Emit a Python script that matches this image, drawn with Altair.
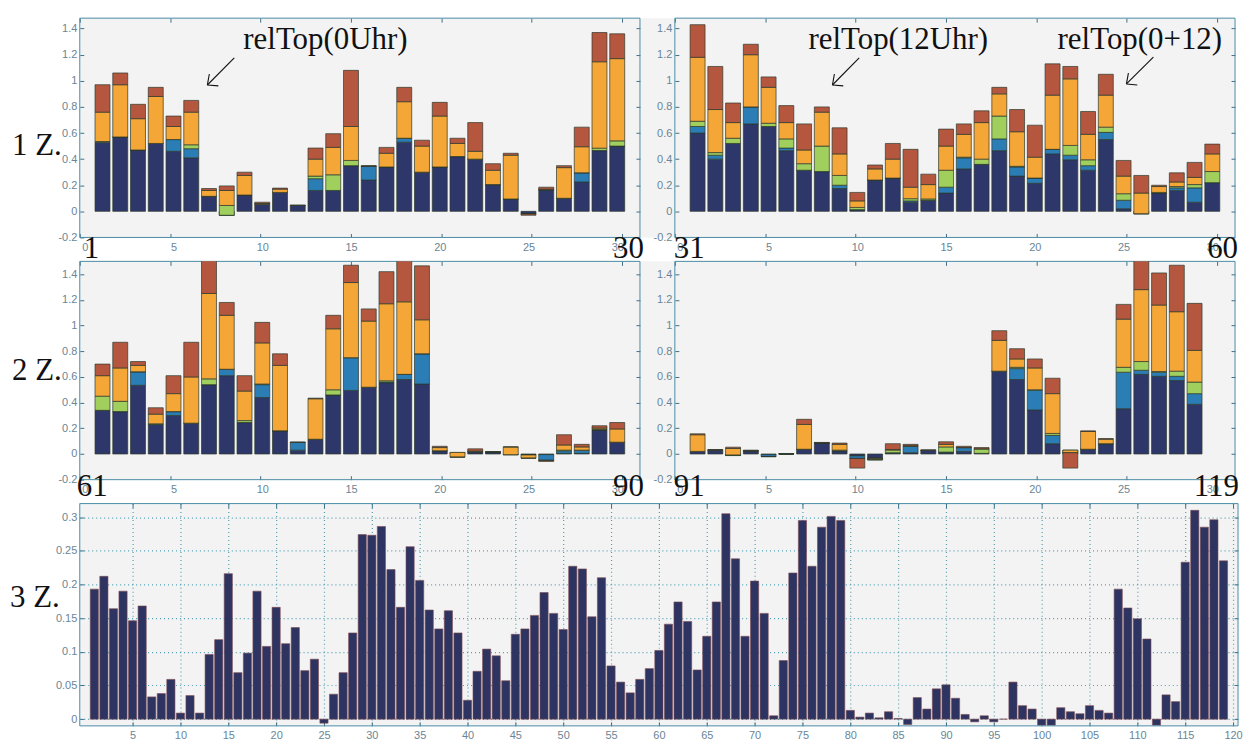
import altair as alt
import pandas as pd

SERIES = ["navy", "blue", "green", "orange", "red"]
COLORS = ["#2e3769", "#2b7db6", "#a0cf5e", "#f4a637", "#b5573e"]

# ---- panel 1 : days 1-30 ----
P1_NAVY = [0.53, 0.57, 0.47, 0.52, 0.46, 0.41, 0.115, -0.03, 0.125, 0.055,
           0.145, 0.045, 0.16, 0.16, 0.35, 0.24, 0.34, 0.53, 0.30, 0.34,
           0.42, 0.40, 0.205, 0.095, -0.02, 0.165, 0.10, 0.225, 0.466, 0.50]
P1_BLUE = [0, 0, 0, 0, 0.09, 0.07, 0, 0, 0, 0,
           0, 0, 0.09, 0, 0, 0.105, 0, 0.03, 0, 0,
           0, 0, 0, 0, 0, 0, 0, 0.07, 0, 0]
P1_GREEN = [0.005, 0, 0, 0, 0, 0.03, 0, 0.075, 0, 0,
            0, 0, 0.02, 0.12, 0.04, 0, 0, 0, 0, 0,
            0, 0, 0, 0, 0, 0, 0, 0, 0.018, 0.04]
P1_ORANGE = [0.225, 0.40, 0.24, 0.36, 0.10, 0.25, 0.045, 0.115, 0.15, 0.005,
             0.025, 0, 0.13, 0.21, 0.26, 0, 0.105, 0.28, 0.20, 0.39,
             0.10, 0.06, 0.11, 0.335, 0, 0.005, 0.235, 0.20, 0.662, 0.63]
P1_RED = [0.21, 0.09, 0.11, 0.07, 0.08, 0.09, 0.015, 0.035, 0.025, 0.01,
          0.008, 0.003, 0.085, 0.105, 0.43, 0.005, 0.045, 0.11, 0.045, 0.105,
          0.04, 0.22, 0.05, 0.015, -0.01, 0.015, 0.015, 0.15, 0.224, 0.19]

# ---- panel 2 : days 31-60 ----
P2_NAVY = [0.60, 0.40, 0.52, 0.67, 0.65, 0.465, 0.315, 0.305, 0.175, 0.013,
           0.24, 0.255, 0.07, 0.085, 0.14, 0.325, 0.36, 0.465, 0.27, 0.215,
           0.44, 0.395, 0.315, 0.55, 0.02, -0.018, 0.14, 0.16, 0.07, 0.22]
P2_BLUE = [0.05, 0.03, 0, 0.13, 0, 0.02, 0, 0, 0.025, 0,
           0, 0, 0.01, 0, 0.045, 0.085, 0, 0.09, 0.07, 0.04,
           0.035, 0.035, 0.035, 0.055, 0.065, 0, 0, 0.02, 0.11, 0]
P2_GREEN = [0.04, 0.02, 0.04, 0, 0.025, 0.07, 0.05, 0.195, 0.075, 0.017,
            0, 0, 0.017, 0.01, 0.13, 0.005, 0.04, 0.175, 0.005, 0,
            0, 0.075, 0.045, 0.04, 0.05, 0, 0.005, 0.01, 0.025, 0.085]
P2_ORANGE = [0.49, 0.33, 0.12, 0.40, 0.275, 0.125, 0.105, 0.26, 0.165, 0.05,
             0.085, 0.145, 0.088, 0.11, 0.185, 0.175, 0.28, 0.17, 0.265, 0.16,
             0.415, 0.51, 0.195, 0.245, 0.135, 0.158, 0.045, 0.035, 0.055, 0.135]
P2_RED = [0.25, 0.33, 0.15, 0.08, 0.08, 0.13, 0.20, 0.04, 0.20, 0.065,
          0.03, 0.12, 0.29, 0.08, 0.13, 0.08, 0.09, 0.05, 0.17, 0.245,
          0.24, 0.095, 0.175, 0.16, 0.12, 0.135, 0.01, 0.07, 0.115, 0.075]

# ---- panel 3 : days 61-90 ----
P3_NAVY = [0.34, 0.33, 0.535, 0.23, 0.30, 0.24, 0.54, 0.61, 0.245, 0.44,
           0.18, 0.03, 0.115, 0.46, 0.495, 0.52, 0.555, 0.58, 0.545, 0.025,
           0, 0.018, 0.015, -0.005, -0.008, -0.005, 0.005, 0.005, 0.187, 0.092]
P3_BLUE = [0, 0, 0.105, 0, 0.03, 0, 0, 0.05, 0, 0.10,
           0, 0.06, 0, 0, 0.255, 0, 0.005, 0.04, 0.235, 0,
           0, 0, 0, 0, 0, -0.045, 0.02, 0.025, 0, 0]
P3_GREEN = [0.11, 0.08, 0, 0.005, 0, 0, 0.045, 0, 0.015, 0.005,
            0, 0, 0, 0.04, 0, 0, 0.01, 0, 0, 0,
            0.012, 0, 0, 0, 0, 0, 0.005, 0, 0.005, 0]
P3_ORANGE = [0.16, 0.26, 0.05, 0.075, 0.14, 0.36, 0.665, 0.42, 0.23, 0.32,
             0.51, 0, 0.315, 0.475, 0.585, 0.515, 0.60, 0.565, 0.265, 0.025,
             -0.037, 0.005, 0, 0.06, -0.025, 0, 0.04, 0.025, 0.01, 0.103]
P3_RED = [0.09, 0.20, 0.03, 0.05, 0.14, 0.27, 0.30, 0.10, 0.12, 0.16,
          0.09, 0.003, 0.005, 0.105, 0.135, 0.095, 0.25, 0.33, 0.42, 0.01,
          0, 0.017, 0.003, 0, 0, -0.008, 0.08, 0.02, 0.018, 0.05]

# ---- panel 4 : days 91-119 ----
P4_NAVY = [0.02, 0.03, -0.012, 0.025, -0.005, 0, 0.037, 0.085, 0.025, -0.015,
           -0.045, 0.005, 0.01, 0.028, 0.01, 0.02, 0.005, 0.645, 0.58, 0.343,
           0.08, 0.01, 0.037, 0.08, 0.353, 0.62, 0.605, 0.572, 0.387]
P4_BLUE = [0, 0, 0, 0, -0.015, 0, 0, 0, 0, -0.02,
           0, 0.005, 0.05, 0, 0.005, 0.03, 0, 0, 0.085, 0.154,
           0.065, 0, 0, 0, 0.284, 0.032, 0.032, 0.033, 0.083]
P4_GREEN = [0, 0, 0.005, 0, 0, 0, 0, 0, 0.005, 0,
            0.005, 0.02, 0, 0, 0.04, 0, 0.035, 0, 0.01, 0.003,
            0.015, 0.02, 0, 0, 0.038, 0.068, 0.005, 0.04, 0.09]
P4_ORANGE = [0.13, 0, 0.05, 0, 0, 0.003, 0.193, 0, 0.045, 0,
             0.008, 0.005, 0.005, 0, 0.02, 0, 0, 0.24, 0.065, 0.17,
             0.31, -0.02, 0.138, 0.035, 0.375, 0.56, 0.518, 0.463, 0.247]
P4_RED = [0.007, 0.003, 0.01, 0.005, 0, 0, 0.04, 0.005, 0.01, -0.075,
          0, 0.045, 0.01, 0.004, 0.02, 0.01, 0.01, 0.075, 0.08, 0.07,
          0.12, -0.12, 0.005, 0.005, 0.115, 0.24, 0.25, 0.362, 0.366]

# ---- bottom panel : days 1-119 ----
BOTTOM = [0.193, 0.212, 0.164, 0.190, 0.146, 0.168, 0.033, 0.038, 0.059, 0.009,
          0.035, 0.009, 0.096, 0.118, 0.216, 0.069, 0.098, 0.190, 0.108, 0.166,
          0.112, 0.136, 0.072, 0.089, -0.006, 0.037, 0.069, 0.128, 0.274, 0.273,
          0.286, 0.222, 0.166, 0.256, 0.206, 0.162, 0.134, 0.161, 0.128, 0.028,
          0.071, 0.104, 0.094, 0.057, 0.126, 0.134, 0.154, 0.188, 0.157, 0.133,
          0.227, 0.223, 0.152, 0.210, 0.079, 0.055, 0.039, 0.059, 0.075, 0.102,
          0.141, 0.174, 0.145, 0.073, 0.123, 0.174, 0.305, 0.238, 0.123, 0.205,
          0.157, 0.005, 0.087, 0.217, 0.295, 0.227, 0.285, 0.301, 0.295, 0.013,
          0.003, 0.009, 0.002, 0.011, 0.001, -0.008, 0.032, 0.015, 0.045, 0.051,
          0.031, 0.007, -0.004, 0.005, -0.004, 0.0, 0.055, 0.020, 0.015, -0.009,
          -0.009, 0.017, 0.011, 0.008, 0.020, 0.013, 0.009, 0.193, 0.165, 0.149,
          0.119, -0.009, 0.036, 0.026, 0.233, 0.310, 0.285, 0.296, 0.235]

# tick labels
XT_TOP = [0, 5, 10, 15, 20, 25, 30]
YT_TOP = [-0.2, 0, 0.2, 0.4, 0.6, 0.8, 1, 1.2, 1.4]
XT_BOT = [5, 10, 15, 20, 25, 30, 35, 40, 45, 50, 55, 60, 65, 70, 75, 80,
          85, 90, 95, 100, 105, 110, 115, 120]
YT_BOT = [0, 0.05, 0.1, 0.15, 0.2, 0.25, 0.3]

# annotations (data units of the panel they sit in)
REL_TEXT = ["relTop(0Uhr)", "relTop(12Uhr)", "relTop(0+12)"]
REL_PANEL = [1, 2, 2]
REL_X = [9.05, 7.39, 21.18]
REL_Y = [1.243, 1.243, 1.243]
ARR_X1 = [8.55, 10.20, 26.48]
ARR_Y1 = [1.175, 1.175, 1.182]
ARR_X2 = [7.06, 8.72, 24.99]
ARR_Y2 = [0.968, 0.968, 0.976]
HEAD_RX = [7.67, 9.32, 25.59]
HEAD_RY = [0.961, 0.961, 0.968]
HEAD_UX = [7.17, 8.83, 25.10]
HEAD_UY = [1.052, 1.052, 1.06]

W = 562          # width of one upper panel
GAP = 35         # gap between the two upper panels
X2 = W + GAP     # left edge of the right panel inside a row
RW = X2 + W      # row width
H1 = 220
H2 = 219
H3 = 223
W3 = 1162
SERIF = "Liberation Serif"
SANS = "Liberation Sans"
LAB = "#6a8595"
TICK = "#3f6f86"
FRAME = "#4a8ca4"
GRID = "#4fa0b4"
PANEL_BG = "#f3f3f4"
LBL = "replace(format(datum.value, '~g'), '\u2212', '-')"


def panel_df(arrays):
    rows = []
    for k, (name, arr) in enumerate(zip(SERIES, arrays)):
        for i, v in enumerate(arr):
            rows.append({"pos": i + 1, "series": name, "order": k, "value": v})
    return pd.DataFrame(rows)


def frame(x0, w, h):
    return alt.Chart(pd.DataFrame({"k": [0]})).mark_rect(
        filled=False, stroke=FRAME, strokeWidth=1
    ).encode(x=alt.value(x0), x2=alt.value(x0 + w), y=alt.value(0), y2=alt.value(h))


def inward_ticks(df, xs, ys, xt, yt, x0, w, h, total_w):
    common = dict(labels=False, tickSize=4, tickColor=TICK, tickWidth=1,
                  domain=False, title=None, grid=False)
    a = alt.Chart(df).mark_point(opacity=0).encode(
        x=alt.X("pos:Q", scale=xs, axis=alt.Axis(orient="top", offset=-h, values=xt, **common)),
        y=alt.Y("value:Q", scale=ys, axis=alt.Axis(orient="right", offset=-(total_w - x0), values=yt, **common)),
    )
    b = alt.Chart(df).mark_point(opacity=0).encode(
        x=alt.X("pos:Q", scale=xs, axis=alt.Axis(orient="bottom", offset=-h, values=xt, **common)),
        y=alt.Y("value:Q", scale=ys, axis=alt.Axis(orient="left", offset=-(x0 + w), values=yt, **common)),
    )
    return [a, b]


def label(text, px, py, align="left", size=31):
    return alt.Chart(pd.DataFrame({"t": [text]})).mark_text(
        align=align, baseline="alphabetic", font=SERIF, fontSize=size, color="#111111"
    ).encode(text="t:N", x=alt.value(px), y=alt.value(py))


def annotations(panel, xs, ys):
    idx = [i for i, p in enumerate(REL_PANEL) if p == panel]
    if not idx:
        return []
    segs = []
    for i in idx:
        segs.append({"x": ARR_X1[i], "y": ARR_Y1[i], "x2": ARR_X2[i], "y2": ARR_Y2[i]})
        segs.append({"x": ARR_X2[i], "y": ARR_Y2[i], "x2": HEAD_RX[i], "y2": HEAD_RY[i]})
        segs.append({"x": ARR_X2[i], "y": ARR_Y2[i], "x2": HEAD_UX[i], "y2": HEAD_UY[i]})
    rules = alt.Chart(pd.DataFrame(segs)).mark_rule(color="#111111", strokeWidth=1.1).encode(
        x=alt.X("x:Q", scale=xs, axis=None), y=alt.Y("y:Q", scale=ys, axis=None),
        x2="x2:Q", y2="y2:Q")
    tdf = pd.DataFrame({"t": [REL_TEXT[i] for i in idx], "x": [REL_X[i] for i in idx],
                        "y": [REL_Y[i] for i in idx]})
    txt = alt.Chart(tdf).mark_text(align="left", baseline="alphabetic", font=SERIF,
                                   fontSize=31, color="#111111").encode(
        text="t:N", x=alt.X("x:Q", scale=xs, axis=None), y=alt.Y("y:Q", scale=ys, axis=None))
    return [rules, txt]


def panel_layers(arrays, panel, ydom, h, x0):
    df = panel_df(arrays)
    xs = alt.Scale(domain=[0, 31], range=[x0, x0 + W], nice=False, zero=False)
    ys = alt.Scale(domain=ydom, nice=False, zero=False)
    bars = alt.Chart(df).transform_window(
        cum="sum(value)", groupby=["pos"], sort=[alt.SortField("order")], frame=[None, 0]
    ).transform_calculate(start="datum.cum - datum.value").mark_bar(
        size=15, stroke="#2c3a2c", strokeWidth=0.7, clip=True
    ).encode(
        x=alt.X("pos:Q", scale=xs, axis=alt.Axis(orient="bottom", values=XT_TOP, title=None, tickSize=0,
                                                 domain=False, grid=False, labelPadding=4,
                                                 labelFlush=False)),
        y=alt.Y("start:Q", scale=ys, axis=alt.Axis(orient="left", values=YT_TOP, title=None, tickSize=0,
                                                   domain=False, grid=False, labelPadding=3,
                                                   labelExpr=LBL, offset=-x0)),
        y2="cum:Q",
        color=alt.Color("series:N", scale=alt.Scale(domain=SERIES, range=COLORS), legend=None),
        order=alt.Order("order:Q"),
    )
    layers = [frame(x0, W, h), bars]
    layers += inward_ticks(df, xs, ys, XT_TOP, YT_TOP, x0, W, h, RW)
    layers += annotations(panel, xs, ys)
    return layers


def row(left, right, ydom, h, texts):
    layers = panel_layers(left[0], left[1], ydom, h, 0) + panel_layers(right[0], right[1], ydom, h, X2)
    layers += [label(*t) for t in texts]
    return alt.layer(*layers).resolve_scale(x="independent").resolve_axis(
        x="independent", y="independent").properties(width=RW, height=h)


row1 = row(([P1_NAVY, P1_BLUE, P1_GREEN, P1_ORANGE, P1_RED], 1),
           ([P2_NAVY, P2_BLUE, P2_GREEN, P2_ORANGE, P2_RED], 2),
           [-0.2, 1.48], H1,
           [("1 Z.", -68, 137), ("1", 4, 241), ("30", 566, 241, "right"),
            ("31", X2 - 1, 241), ("60", X2 + 565, 241, "right")])
row2 = row(([P3_NAVY, P3_BLUE, P3_GREEN, P3_ORANGE, P3_RED], 3),
           ([P4_NAVY, P4_BLUE, P4_GREEN, P4_ORANGE, P4_RED], 4),
           [-0.2, 1.5], H2,
           [("2 Z.", -68, 119), ("61", -3, 235), ("90", 566, 235, "right"),
            ("91", X2 - 1, 235), ("119", X2 + 566, 235, "right")])

bdf = pd.DataFrame({"pos": list(range(1, len(BOTTOM) + 1)), "value": BOTTOM})
xs3 = alt.Scale(domain=[0, 120], nice=False, zero=False)
ys3 = alt.Scale(domain=[-0.01, 0.32], nice=False, zero=False)
b3 = alt.Chart(bdf).mark_bar(size=8.2, color="#2d3461", stroke="#7e4a50", strokeWidth=0.6).encode(
    x=alt.X("pos:Q", scale=xs3, axis=alt.Axis(orient="bottom", values=XT_BOT, title=None, tickSize=0,
                                              domain=False, grid=True, gridDash=[1, 3], gridColor=GRID,
                                              gridWidth=1.2, labelPadding=4, labelFlush=False)),
    y=alt.Y("value:Q", scale=ys3, axis=alt.Axis(orient="left", values=YT_BOT, title=None, tickSize=0,
                                                domain=False, grid=True, gridDash=[1, 3], gridColor=GRID,
                                                gridWidth=1.2, labelPadding=3, labelExpr=LBL)),
)
row3 = alt.layer(
    b3, frame(0, W3, H3), *inward_ticks(bdf, xs3, ys3, XT_BOT, YT_BOT, 0, W3, H3, W3),
    label("3 Z.", -70, 104)
).resolve_axis(x="independent", y="independent").properties(width=W3, height=H3)

chart = alt.vconcat(row1, row2, row3, spacing=24, bounds="flush").properties(
    padding={"left": 2, "top": 8, "right": 4, "bottom": 4}, background="white"
).configure_view(stroke="transparent", strokeWidth=0, fill=PANEL_BG).configure_axis(
    labelFont=SANS, labelFontSize=11, labelColor=LAB
)

chart.save("out.html", embed_options={"renderer": "svg", "actions": False})
